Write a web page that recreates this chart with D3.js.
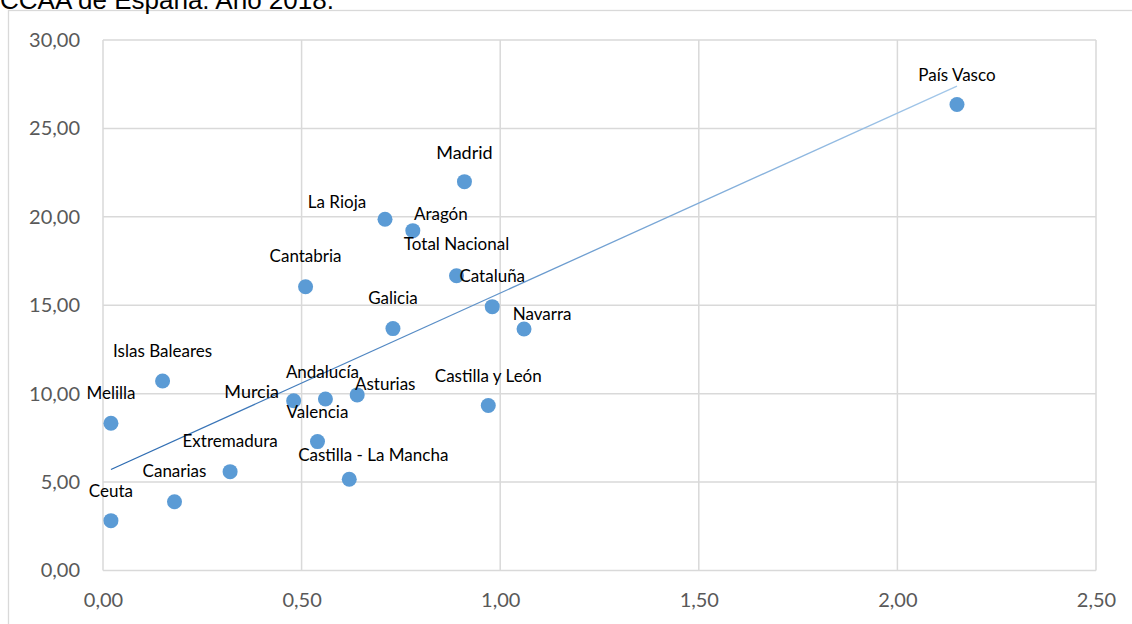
<!DOCTYPE html>
<html>
<head>
<meta charset="utf-8">
<script src="https://cdn.jsdelivr.net/npm/d3@7"></script>
<style>
  html, body { margin: 0; padding: 0; background: #fff; }
  svg { display: block; }
</style>
</head>
<body>
<svg id="chart" width="1132" height="624"></svg>
<script>
// ---- data ----
const regions = ["Ceuta", "Melilla", "Islas Baleares", "Canarias", "Extremadura", "Murcia",
  "Andalucía", "Valencia", "Asturias", "Castilla - La Mancha", "Castilla y León", "Cantabria",
  "Galicia", "La Rioja", "Aragón", "Madrid", "Total Nacional", "Cataluña", "Navarra", "País Vasco"];
const xValues = [0.02, 0.02, 0.15, 0.18, 0.32, 0.48, 0.56, 0.54, 0.64, 0.62, 0.97, 0.51,
  0.73, 0.71, 0.78, 0.91, 0.89, 0.98, 1.06, 2.15];
const yValues = [2.82, 8.33, 10.72, 3.89, 5.59, 9.60, 9.70, 7.29, 9.93, 5.16, 9.33, 16.05,
  13.68, 19.86, 19.22, 21.99, 16.67, 14.92, 13.66, 26.35];
const xTicks = [0, 0.5, 1, 1.5, 2, 2.5];
const yTicks = [0, 5, 10, 15, 20, 25, 30];
const titleText = "CCAA de España. Año 2018.";

// label placement (pixel offsets of label centre/baseline from the point)
const labelOffsets = {
  "Ceuta": [0, -24], "Melilla": [0, -24], "Islas Baleares": [0, -24], "Canarias": [0, -25],
  "Extremadura": [0, -25], "Murcia": [-42, -3], "Andalucía": [-3, -21], "Valencia": [0, -24],
  "Asturias": [28, -5], "Castilla - La Mancha": [24, -18], "Castilla y León": [0, -24],
  "Cantabria": [0, -25], "Galicia": [0, -25], "La Rioja": [-48, -11], "Aragón": [28, -11],
  "Madrid": [0, -23], "Total Nacional": [0, -26], "Cataluña": [0, -25], "Navarra": [18, -9],
  "País Vasco": [0, -24]
};
const bigLabels = ["Madrid", "Murcia"];

(function () {
// ---- layout ----
const svg = d3.select("#chart");
const pLeft = 103, pRight = 1096, pTop = 40, pBottom = 570.5;
const x = d3.scaleLinear().domain([0, 2.5]).range([pLeft, pRight]);
const y = d3.scaleLinear().domain([0, 30]).range([pBottom, pTop]);

// outer chart border
svg.append("rect").attr("x", 8.5).attr("y", 10.5).attr("width", 1140).attr("height", 640)
  .attr("fill", "none").attr("stroke", "#d9d9d9").attr("stroke-width", 1.3);

// title (cropped at top, as in the reference)
svg.append("text").attr("x", 0).attr("y", 9).text(titleText)
  .attr("font-family", "Liberation Sans, Arial, sans-serif").attr("font-size", 26).attr("fill", "#000");

// grid
const grid = svg.append("g");
grid.selectAll("line.v").data(xTicks).join("line").attr("class", "v")
  .attr("x1", d => x(d)).attr("x2", d => x(d)).attr("y1", pTop).attr("y2", pBottom)
  .attr("stroke", "#d9d9d9").attr("stroke-width", 1.5);
grid.selectAll("line.h").data(yTicks).join("line").attr("class", "h")
  .attr("x1", pLeft).attr("x2", pRight).attr("y1", d => y(d)).attr("y2", d => y(d))
  .attr("stroke", "#d9d9d9").attr("stroke-width", 1.5);

const fmt = d => d3.format(".2f")(d).replace(".", ",");

// axes
const xAxis = svg.append("g").attr("transform", `translate(0,${pBottom})`)
  .call(d3.axisBottom(x).tickValues(xTicks).tickFormat(fmt).tickSize(0).tickPadding(22.5));
const yAxis = svg.append("g").attr("transform", `translate(${pLeft},0)`)
  .call(d3.axisLeft(y).tickValues(yTicks).tickFormat(fmt).tickSize(0).tickPadding(23));
[xAxis, yAxis].forEach(a => {
  a.select(".domain").remove();
  a.selectAll("text").attr("font-family", "Lato, 'Open Sans', sans-serif")
    .attr("font-size", 20).attr("fill", "#595959");
});

// trendline (least squares)
const pts = regions.map((r, i) => ({ name: r, x: xValues[i], y: yValues[i] }));
const mx = d3.mean(pts, d => d.x), my = d3.mean(pts, d => d.y);
const slope = d3.sum(pts, d => (d.x - mx) * (d.y - my)) / d3.sum(pts, d => (d.x - mx) ** 2);
const intercept = my - slope * mx;
const [xmin, xmax] = d3.extent(pts, d => d.x);

const defs = svg.append("defs");
const grad = defs.append("linearGradient").attr("id", "tg")
  .attr("gradientUnits", "userSpaceOnUse")
  .attr("x1", x(xmin)).attr("y1", y(intercept + slope * xmin))
  .attr("x2", x(xmax)).attr("y2", y(intercept + slope * xmax));
grad.append("stop").attr("offset", "0%").attr("stop-color", "#2a69b0");
grad.append("stop").attr("offset", "100%").attr("stop-color", "#a4c8ea");

svg.append("line")
  .attr("x1", x(xmin)).attr("y1", y(intercept + slope * xmin))
  .attr("x2", x(xmax)).attr("y2", y(intercept + slope * xmax))
  .attr("stroke", "url(#tg)").attr("stroke-width", 1.3);

// points
svg.append("g").selectAll("circle").data(pts).join("circle")
  .attr("cx", d => x(d.x)).attr("cy", d => y(d.y)).attr("r", 7.5)
  .attr("fill", "#5b9bd5");

// labels
svg.append("g").selectAll("text").data(pts).join("text")
  .attr("x", d => x(d.x) + labelOffsets[d.name][0])
  .attr("y", d => y(d.y) + labelOffsets[d.name][1])
  .attr("text-anchor", "middle")
  .attr("font-family", "Lato, 'Open Sans', sans-serif")
  .attr("font-size", d => bigLabels.includes(d.name) ? 18 : 17)
  .attr("fill", "#000")
  .text(d => d.name);
})();
</script>
</body>
</html>
